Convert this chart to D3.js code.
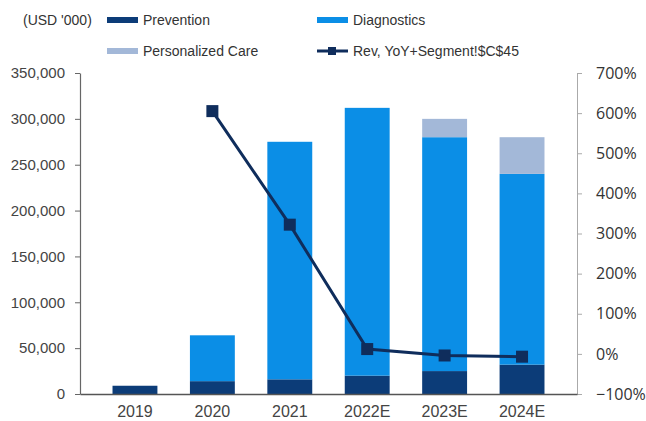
<!DOCTYPE html>
<html>
<head>
<meta charset="utf-8">
<script src="https://cdn.jsdelivr.net/npm/d3@7"></script>
<style>
  body { margin: 0; background: #fff; }
  svg { display: block; font-family: "Liberation Sans", Arial, sans-serif; }
</style>
</head>
<body>
<svg id="chart" width="646" height="421"></svg>
<script>
// data (USD '000)
var years = ['2019', '2020', '2021', '2022E', '2023E', '2024E'];
var prevention = [9000, 14000, 16000, 20000, 25000, 32000];
var diagnostics = [0, 50000, 259000, 292000, 255000, 208000];
var personalized = [0, 0, 0, 0, 20000, 40000];
var yoy = [null, 6.05, 3.22, 0.12, -0.04, -0.07];

var leftTicks = [0, 50000, 100000, 150000, 200000, 250000, 300000, 350000];
var rightTicks = [-1, 0, 1, 2, 3, 4, 5, 6, 7];

var colors = {
  prevention: '#0c3c78',
  diagnostics: '#0b8ee6',
  personalized: '#a3b8d8',
  line: '#0f2d5c'
};

// note: "top" is reserved on window, so use plot* names
var plotLeft = 80, plotRight = 577, plotTop = 73, plotBottom = 394;

var chart = d3.select('#chart');

var x = d3.scaleBand()
  .domain(years)
  .range([plotLeft, plotRight])
  .padding(0.42);

var yL = d3.scaleLinear().domain([0, 350000]).range([plotBottom, plotTop]);
var yR = d3.scaleLinear().domain([-1, 7]).range([plotBottom, plotTop]);

// stack the three segments
var rows = years.map(function(y, i) {
  return { year: y, prevention: prevention[i], diagnostics: diagnostics[i], personalized: personalized[i] };
});
var keys = ['prevention', 'diagnostics', 'personalized'];
var stack = d3.stack().keys(keys)(rows);

chart.append('g')
  .selectAll('g')
  .data(stack)
  .enter().append('g')
    .attr('fill', function(d) { return colors[d.key]; })
  .selectAll('rect')
  .data(function(d) { return d; })
  .enter().append('rect')
    .attr('x', function(d) { return x(d.data.year); })
    .attr('y', function(d) { return yL(d[1]); })
    .attr('width', x.bandwidth())
    .attr('height', function(d) { return yL(d[0]) - yL(d[1]); });

// left axis
var axL = chart.append('g')
  .attr('transform', 'translate(' + plotLeft + ',0)')
  .call(d3.axisLeft(yL).tickValues(leftTicks).tickSize(5).tickPadding(10).tickSizeOuter(0)
    .tickFormat(d3.format(',')));
axL.select('.domain').attr('stroke', '#666').attr('stroke-width', 1.2);
axL.selectAll('.tick line').attr('stroke', '#666');
axL.selectAll('text').attr('fill', '#444').style('font-size', '15px')
  .style('font-family', '"Liberation Sans", Arial, sans-serif');

// right axis
var axR = chart.append('g')
  .attr('transform', 'translate(' + plotRight + ',0)')
  .call(d3.axisRight(yR).tickValues(rightTicks).tickSize(5).tickPadding(14).tickSizeOuter(0)
    .tickFormat(d3.format('.0%')));
axR.select('.domain').attr('stroke', '#aaa');
axR.selectAll('.tick line').attr('stroke', '#aaa');
axR.selectAll('text').attr('fill', '#333').style('font-size', '16px')
  .style('font-family', '"Open Sans", sans-serif');

// bottom axis
var axB = chart.append('g')
  .attr('transform', 'translate(0,' + plotBottom + ')')
  .call(d3.axisBottom(x).tickSize(0).tickPadding(12));
axB.select('.domain').attr('stroke', '#555').attr('stroke-width', 1.5);
axB.selectAll('text').attr('fill', '#444').style('font-size', '16px')
  .style('font-family', '"Liberation Sans", Arial, sans-serif');

// YoY line
var pts = years.map(function(y, i) { return { year: y, v: yoy[i] }; })
  .filter(function(d) { return d.v != null; });

var line = d3.line()
  .x(function(d) { return x(d.year) + x.bandwidth() / 2; })
  .y(function(d) { return yR(d.v); });

chart.append('path')
  .datum(pts)
  .attr('d', line)
  .attr('fill', 'none')
  .attr('stroke', colors.line)
  .attr('stroke-width', 3);

chart.selectAll('.marker')
  .data(pts)
  .enter().append('rect')
    .attr('class', 'marker')
    .attr('x', function(d) { return x(d.year) + x.bandwidth() / 2 - 6; })
    .attr('y', function(d) { return yR(d.v) - 6; })
    .attr('width', 12)
    .attr('height', 12)
    .attr('fill', colors.line);

// legend
var legend = chart.append('g').style('font-size', '14px').attr('fill', '#333');

legend.append('text').attr('x', 23).attr('y', 25).text("(USD '000)");

var legItems = [
  { label: 'Prevention', color: colors.prevention, x: 107, y: 20 },
  { label: 'Diagnostics', color: colors.diagnostics, x: 317, y: 20 },
  { label: 'Personalized Care', color: colors.personalized, x: 107, y: 51 }
];
legItems.forEach(function(d) {
  legend.append('rect').attr('x', d.x).attr('y', d.y - 3).attr('width', 31).attr('height', 6).attr('fill', d.color);
  legend.append('text').attr('x', d.x + 36).attr('y', d.y + 5).text(d.label);
});

legend.append('line').attr('x1', 317).attr('x2', 348).attr('y1', 51).attr('y2', 51)
  .attr('stroke', colors.line).attr('stroke-width', 3);
legend.append('rect').attr('x', 328).attr('y', 47).attr('width', 8).attr('height', 8).attr('fill', colors.line);
legend.append('text').attr('x', 353).attr('y', 56).text('Rev, YoY+Segment!$C$45');
</script>
</body>
</html>
